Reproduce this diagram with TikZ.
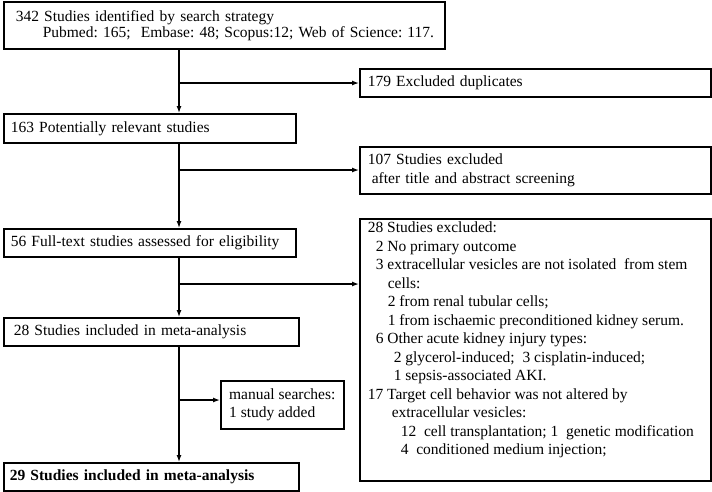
\documentclass[tikz,border=0pt]{standalone}
\usepackage{fontspec}
\setmainfont{Liberation Serif}
\usetikzlibrary{arrows.meta}
\frenchspacing

\begin{document}
\begin{tikzpicture}[x=1pt, y=-1pt]
\tikzset{ >={Latex[length=7pt,width=5pt]},
  box/.style={draw, line width=1.6, anchor=north west, align=left, inner ysep=3,
    font=\fontsize{15.5}{18.5}\selectfont\frenchspacing},
  flow/.style={->, line width=1.3},
}
\useasboundingbox (0,0) rectangle (712,491);

%\draw [lightgray, dashed](0,0) grid [step=50] (712,491);

% left column
\node [box, inner xsep=4, text width=433pt, minimum height=47] (ID) at (3,1)
  {\hspace*{8pt}342 Studies identified by search strategy\\[-2.5pt]
   \hspace*{35pt}\mbox{Pubmed: 165;~ Embase: 48; Scopus:12; Web of Science: 117.}};
\node [box, inner xsep=7, text width=278pt, minimum height=29] (REL) at (3,113)
  {163 Potentially relevant studies};
\node [box, inner xsep=7, text width=278pt, minimum height=28] (FT) at (3,228)
  {56 Full-text studies assessed for eligibility};
\node [box, inner xsep=10, text width=275pt, minimum height=28] (INC) at (3,317)
  {28 Studies included in meta-analysis};
\node [box, inner xsep=6, text width=283pt, minimum height=28] (FIN) at (3,462)
  {\bfseries 29 Studies included in meta-analysis};

% right column
\node [box, inner xsep=8, text width=335pt, minimum height=28] (DUP) at (359,68)
  {179 Excluded duplicates};
\node [box, inner xsep=8, text width=335pt, minimum height=47] (EX1) at (359,146)
  {107 Studies excluded\\[0.5pt]
   \hspace*{4pt}after title and abstract screening};
\node [box, inner xsep=8] (EX2) at (359,218)
  {\parbox[t][256pt][t]{335pt}{\raggedright
   28 Studies excluded:\\
   \hspace*{8pt}2 No primary outcome\\
   \hspace*{8pt}3 extracellular vesicles are not isolated~ from stem\\
   \hspace*{20pt}cells:\\
   \hspace*{20pt}2 from renal tubular cells;\\
   \hspace*{20pt}1 from ischaemic preconditioned kidney serum.\\
   \hspace*{8pt}6 Other acute kidney injury types:\\
   \hspace*{26pt}2 glycerol-induced;~ 3 cisplatin-induced;\\
   \hspace*{26pt}1 sepsis-associated AKI.\\
   17 Target cell behavior was not altered by\\
   \hspace*{24pt}extracellular vesicles:\\
   \hspace*{33pt}12~ cell transplantation; 1~ genetic modification\\
   \hspace*{33pt}4~ conditioned medium injection;}};
\node [box, minimum width=123, minimum height=48] (MAN) at (220,380)
  {manual searches:\\ 1 study added};

% main line and branches
\coordinate (S) at (179,0);
\coordinate (B1) at (179,83);
\coordinate (B2) at (179,170);
\coordinate (B3) at (179,284);
\coordinate (B4) at (179,400);

\draw [flow] (ID.south -| S)  -- (REL.north -| S);
\draw [flow] (REL.south -| S) -- (FT.north -| S);
\draw [flow] (FT.south -| S)  -- (INC.north -| S);
\draw [flow] (INC.south -| S) -- (FIN.north -| S);

\draw [flow] (B1) -- (B1 -| DUP.west);
\draw [flow] (B2) -- (B2 -| EX1.west);
\draw [flow] (B3) -- (B3 -| EX2.west);
\draw [flow] (B4) -- (B4 -| MAN.west);

\end{tikzpicture}
\end{document}
